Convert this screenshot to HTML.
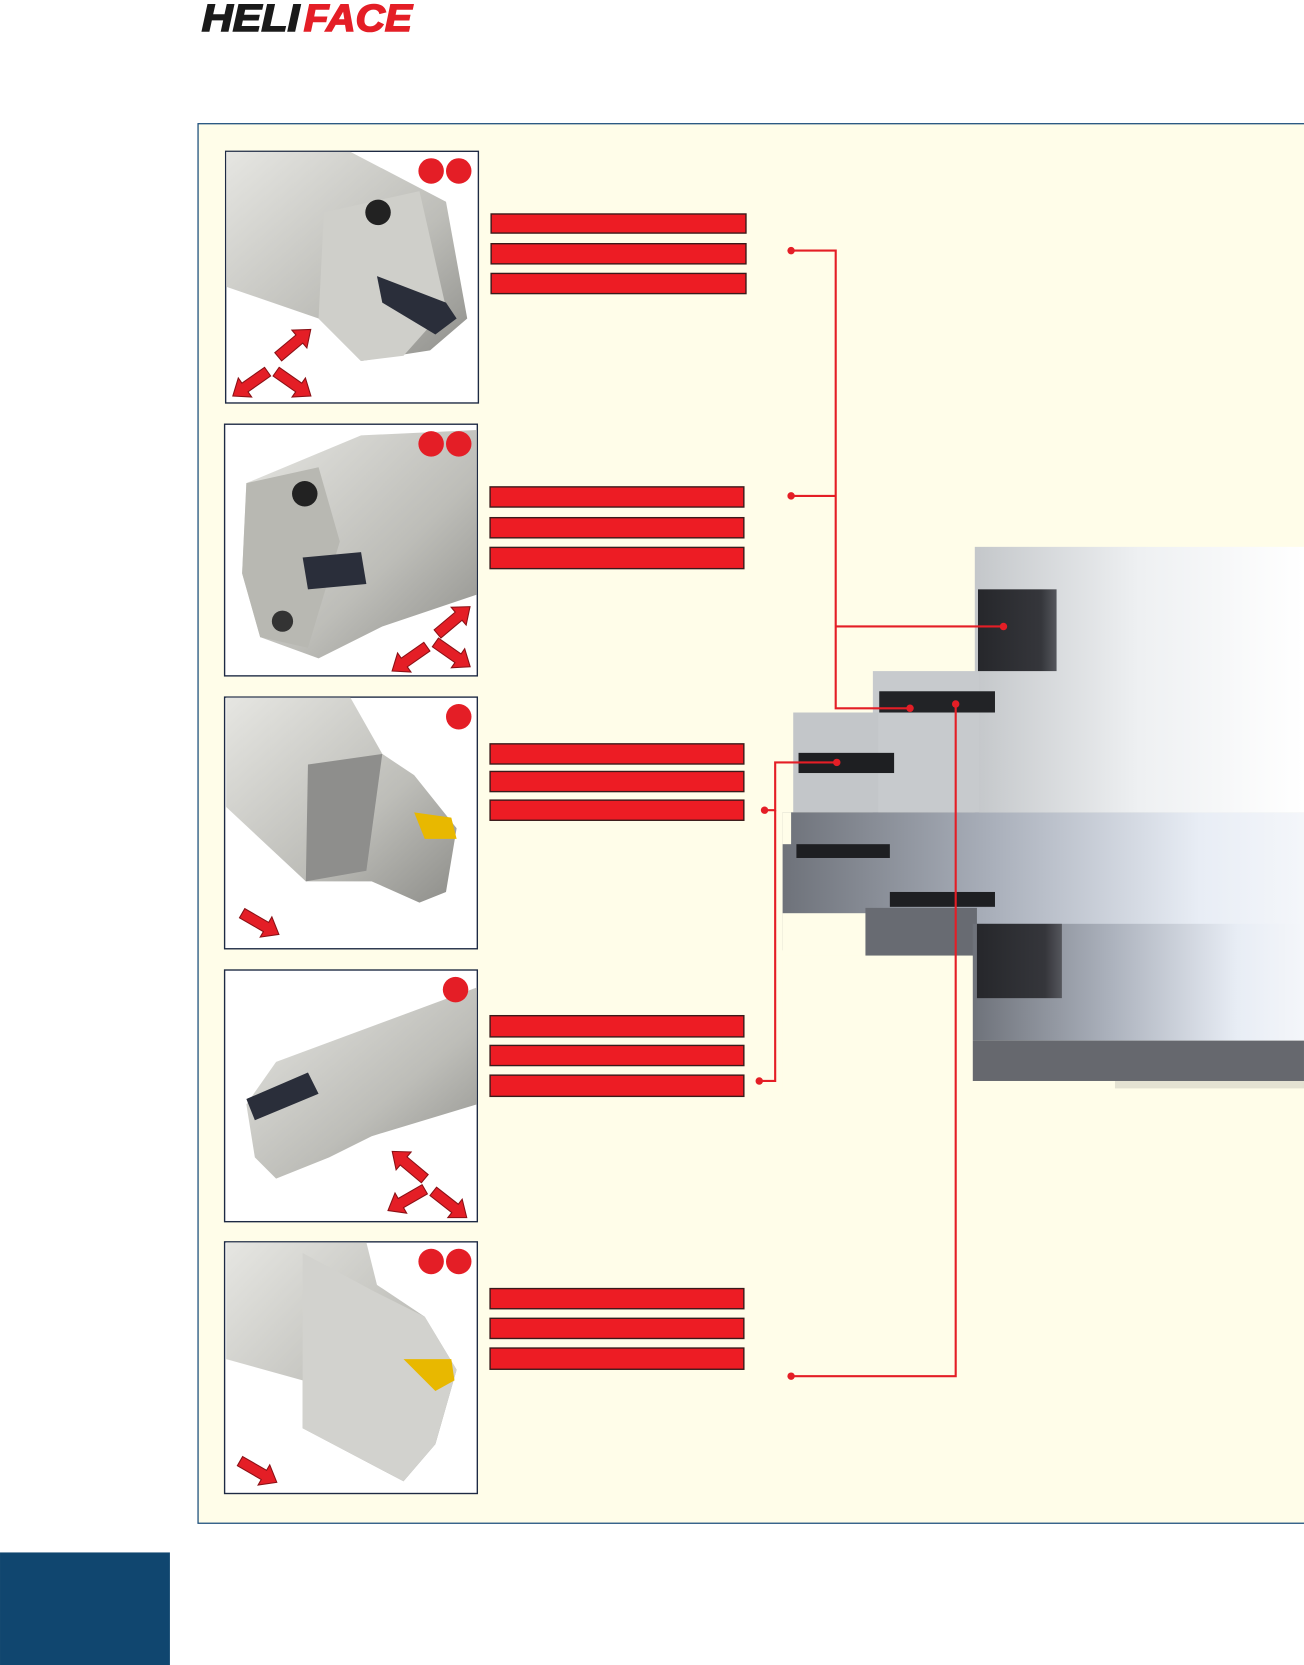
<!DOCTYPE html>
<html><head><meta charset="utf-8"><style>
html,body{margin:0;padding:0;background:#fff;}
svg{display:block;}
</style></head><body>
<svg width="1304" height="1665" viewBox="0 0 1228 1568" xmlns="http://www.w3.org/2000/svg">
<defs>
<linearGradient id="lg" x1="0" y1="0" x2="1" y2="0"><stop offset="0" stop-color="#c4c7ca"/><stop offset="0.5" stop-color="#eef0f2"/><stop offset="1" stop-color="#ffffff"/></linearGradient>
<linearGradient id="dg" x1="0" y1="0" x2="1" y2="0"><stop offset="0" stop-color="#6e727a"/><stop offset="0.4" stop-color="#a9afba"/><stop offset="0.8" stop-color="#e8edf5"/><stop offset="1" stop-color="#f4f6fa"/></linearGradient>
<linearGradient id="tg" x1="0" y1="0" x2="1" y2="1"><stop offset="0" stop-color="#e6e6e2"/><stop offset="0.6" stop-color="#bdbdb8"/><stop offset="1" stop-color="#8e8e8a"/></linearGradient>
<linearGradient id="pk" x1="0" y1="0" x2="1" y2="0"><stop offset="0" stop-color="#26272b"/><stop offset="0.8" stop-color="#35363b"/><stop offset="1" stop-color="#55565c"/></linearGradient>
<g id="arr"><path d="M0,-5 L26,-5 L26,-11 L40,0 L26,11 L26,5 L0,5 Z" fill="#e41e26" stroke="#8a1015" stroke-width="1"/></g>
</defs>
<rect width="1228" height="1568" fill="#fff"/>
<!-- logo -->
<g font-family="Liberation Sans, sans-serif" font-weight="bold" font-style="italic" font-size="36" stroke-width="1.5">
<text x="190" y="29" fill="#1a1a1a" stroke="#1a1a1a" textLength="92" lengthAdjust="spacingAndGlyphs">HELI</text>
<text x="286" y="29" fill="#e41e26" stroke="#e41e26" textLength="102" lengthAdjust="spacingAndGlyphs">FACE</text>
</g>
<!-- panel -->
<rect x="186.5" y="116.5" width="1060" height="1318" fill="#fffde9" stroke="#1d4f7c" stroke-width="1.2"/>
<rect x="0" y="1462" width="160" height="106" fill="#10466f"/>

<g stroke="#1e2a44" stroke-width="1.3">
<rect x="212.5" y="142.5" width="238" height="237" fill="#fff"/>
<rect x="211.5" y="399.5" width="238" height="237" fill="#fff"/>
<rect x="211.5" y="656.5" width="238" height="237" fill="#fff"/>
<rect x="211.5" y="913.5" width="238" height="237" fill="#fff"/>
<rect x="211.5" y="1169.5" width="238" height="237" fill="#fff"/>
</g>
<path d="M213,143 L330,143 L420,190 L440,300 L405,330 L340,340 L300,300 L213,270 Z" fill="url(#tg)"/>
<path d="M305,200 L395,180 L420,290 L380,335 L340,340 L300,300 Z" fill="#cfcfca"/>
<circle cx="356" cy="200" r="12" fill="#222"/>
<path d="M355,260 L420,285 L430,300 L410,315 L360,285 Z" fill="#2a2e3a"/>
<path d="M232,455 L340,410 L449,405 L449,560 L360,590 L300,620 L245,600 L228,540 Z" fill="url(#tg)"/>
<path d="M232,455 L300,440 L320,510 L290,610 L245,600 L228,540 Z" fill="#b8b8b2"/>
<circle cx="287" cy="465" r="12" fill="#222"/>
<circle cx="266" cy="585" r="10" fill="#333"/>
<path d="M285,525 L340,520 L345,550 L290,555 Z" fill="#2a2e3a"/>
<path d="M213,657 L330,657 L360,710 L390,730 L430,780 L420,840 L395,850 L350,830 L310,830 L288,830 L213,760 Z" fill="url(#tg)"/>
<path d="M290,720 L360,710 L345,820 L288,830 Z" fill="#8e8e8c"/>
<path d="M390,765 L425,770 L430,790 L400,790 Z" fill="#e8b800"/>
<path d="M260,1000 L449,930 L449,1040 L350,1070 L310,1090 L260,1110 L240,1090 L232,1040 Z" fill="url(#tg)"/>
<path d="M232,1035 L290,1010 L300,1030 L240,1055 Z" fill="#2a2e3a"/>
<path d="M213,1170 L345,1170 L355,1210 L400,1240 L430,1290 L410,1360 L380,1395 L285,1345 L285,1300 L213,1280 Z" fill="url(#tg)"/>
<path d="M285,1180 L350,1215 L400,1240 L430,1290 L410,1360 L380,1395 L285,1345 Z" fill="#d2d2ce"/>
<path d="M380,1280 L425,1280 L428,1300 L410,1310 Z" fill="#e8b800"/>
<use href="#arr" transform="translate(262,336) rotate(-40)"/>
<use href="#arr" transform="translate(252,350) rotate(145)"/>
<use href="#arr" transform="translate(260,350) rotate(35)"/>
<use href="#arr" transform="translate(412,597) rotate(-40)"/>
<use href="#arr" transform="translate(402,609) rotate(145)"/>
<use href="#arr" transform="translate(410,605) rotate(35)"/>
<use href="#arr" transform="translate(228,860) rotate(30)"/>
<use href="#arr" transform="translate(400,1110) rotate(-140)"/>
<use href="#arr" transform="translate(400,1120) rotate(150)"/>
<use href="#arr" transform="translate(408,1122) rotate(38)"/>
<use href="#arr" transform="translate(226,1376) rotate(30)"/>
<g fill="#e41e26"><circle cx="406" cy="161" r="12"/><circle cx="432" cy="161" r="12"/>
<circle cx="406" cy="418" r="12"/><circle cx="432" cy="418" r="12"/>
<circle cx="432" cy="675" r="12"/><circle cx="429" cy="932" r="12"/>
<circle cx="406" cy="1188" r="12"/><circle cx="432" cy="1188" r="12"/></g>
<g fill="#ed1c24" stroke="#3a1a1a" stroke-width="1.3">
<rect x="462.5" y="201.5" width="240" height="18"/><rect x="462.5" y="229.5" width="240" height="19"/><rect x="462.5" y="257.5" width="240" height="19"/>
<rect x="461.5" y="458.5" width="239" height="19"/><rect x="461.5" y="487.5" width="239" height="19"/><rect x="461.5" y="515.5" width="239" height="20"/>
<rect x="461.5" y="700.5" width="239" height="19"/><rect x="461.5" y="726.5" width="239" height="19"/><rect x="461.5" y="753.5" width="239" height="19"/>
<rect x="461.5" y="956.5" width="239" height="20"/><rect x="461.5" y="984.5" width="239" height="19"/><rect x="461.5" y="1012.5" width="239" height="20"/>
<rect x="461.5" y="1213.5" width="239" height="19"/><rect x="461.5" y="1241.5" width="239" height="19"/><rect x="461.5" y="1269.5" width="239" height="20"/>
</g>
<!-- workpiece -->
<rect x="1050" y="1005" width="178" height="20" fill="#d9d6c8" opacity="0.7"/>
<rect x="918" y="515" width="310" height="250" fill="url(#lg)"/>
<rect x="822" y="632" width="100" height="133" fill="#c7cacd"/>
<rect x="747" y="671" width="80" height="94" fill="#c3c6c9"/>
<rect x="921" y="555" width="74" height="77" fill="url(#pk)"/>
<rect x="828" y="651" width="109" height="20" fill="#222326"/>
<rect x="752" y="709" width="90" height="19" fill="#1e1f22"/>
<rect x="737" y="765" width="491" height="130" fill="url(#dg)"/>
<rect x="737" y="860" width="80" height="42" fill="#fffde9"/>
<rect x="737" y="765" width="8" height="30" fill="#fffde9"/>
<rect x="815" y="855" width="105" height="45" fill="#686b72"/>
<rect x="750" y="795" width="88" height="13" fill="#1e1f22"/>
<rect x="838" y="840" width="99" height="14" fill="#1e1f22"/>
<rect x="916" y="870" width="312" height="110" fill="url(#dg)"/>
<rect x="920" y="870" width="80" height="70" fill="url(#pk)"/>
<rect x="916" y="980" width="312" height="38" fill="#66686e"/>
<rect x="737" y="900" width="179" height="130" fill="#fffde9"/>
<g stroke="#e41e26" stroke-width="2" fill="none">
<path d="M745,236 H787 V667 H857"/><path d="M745,467 H787"/><path d="M787,590 H945"/>
<path d="M720,763 H730 V718 H788"/><path d="M715,1018 H730 V763"/>
<path d="M900,663 V1296 H745"/>
</g>
<g fill="#e41e26">
<circle cx="745" cy="236" r="3.5"/><circle cx="745" cy="467" r="3.5"/><circle cx="945" cy="590" r="3.5"/><circle cx="857" cy="667" r="3.5"/><circle cx="900" cy="663" r="3.5"/>
<circle cx="720" cy="763" r="3.5"/><circle cx="788" cy="718" r="3.5"/><circle cx="715" cy="1018" r="3.5"/><circle cx="745" cy="1296" r="3.5"/>
</g>
</svg>
</body></html>
